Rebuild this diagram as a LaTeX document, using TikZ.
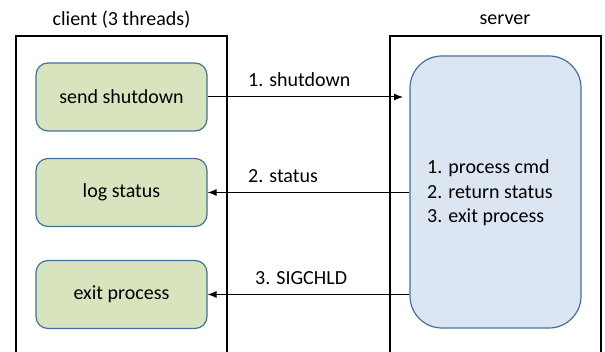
\documentclass[tikz,border=0pt]{standalone}
\usepackage{fontspec}
\setmainfont{Carlito}
\usetikzlibrary{arrows.meta}
\definecolor{taskfill}{HTML}{D7E4BD}
\definecolor{srvfill}{HTML}{DCE6F2}
\definecolor{edge}{HTML}{41719C}
\tikzset{
  lane/.style={line width=1.4pt},
  task/.style={draw=edge, fill=taskfill, line width=1.2pt, rounded corners=12pt,
    minimum width=171pt, minimum height=68pt, inner sep=0pt, font=\fontsize{20}{24}\selectfont},
  srv/.style={draw=edge, fill=srvfill, line width=1.2pt, rounded corners=32pt,
    minimum width=171pt, minimum height=272pt, inner sep=0pt},
  msg/.style={line width=1pt, -{Latex[length=9pt,width=7pt]}},
  lbl/.style={font=\fontsize{20}{24}\selectfont, inner sep=0pt, anchor=west},
  title/.style={font=\fontsize{20}{24}\selectfont, inner sep=0pt}
}
\begin{document}
\begin{tikzpicture}[x=1pt,y=-1pt]
\useasboundingbox (0,0) rectangle (605,352);
% lanes, open at the bottom
\draw[lane] (16,353) -- (16,36) -- (227,36) -- (227,353);
\draw[lane] (390,353) -- (390,36) -- (601,36) -- (601,353);
\node[title] (ct) at (121.5,20) {client (3 threads)};
\node[title] (st) at (505,20) {server};
% client threads
\node[task] (send) at (121.5,97) {send shutdown};
\node[task] (log) at (121.5,192.5) {log status};
\node[task] (exit) at (121.5,294.5) {exit process};
% server process
\node[srv] (proc) at (495.5,192) {};
\node[font=\fontsize{20}{24.5}\selectfont, align=left, anchor=west, inner sep=0pt] (steps) at (427,193)
  {1. process cmd\\2. return status\\3. exit process};
% messages
\coordinate (shutend) at (403,97);
\draw[msg] (send.east) -- (shutend);
\draw[msg] (proc.west |- log.east) -- (log.east);
\draw[msg] (proc.west |- exit.east) -- (exit.east);
\node[lbl] (l1) at (248,80) {1. shutdown};
\node[lbl] (l2) at (248,176) {2. status};
\node[lbl] (l3) at (255,278) {3. SIGCHLD};
\end{tikzpicture}
\end{document}
